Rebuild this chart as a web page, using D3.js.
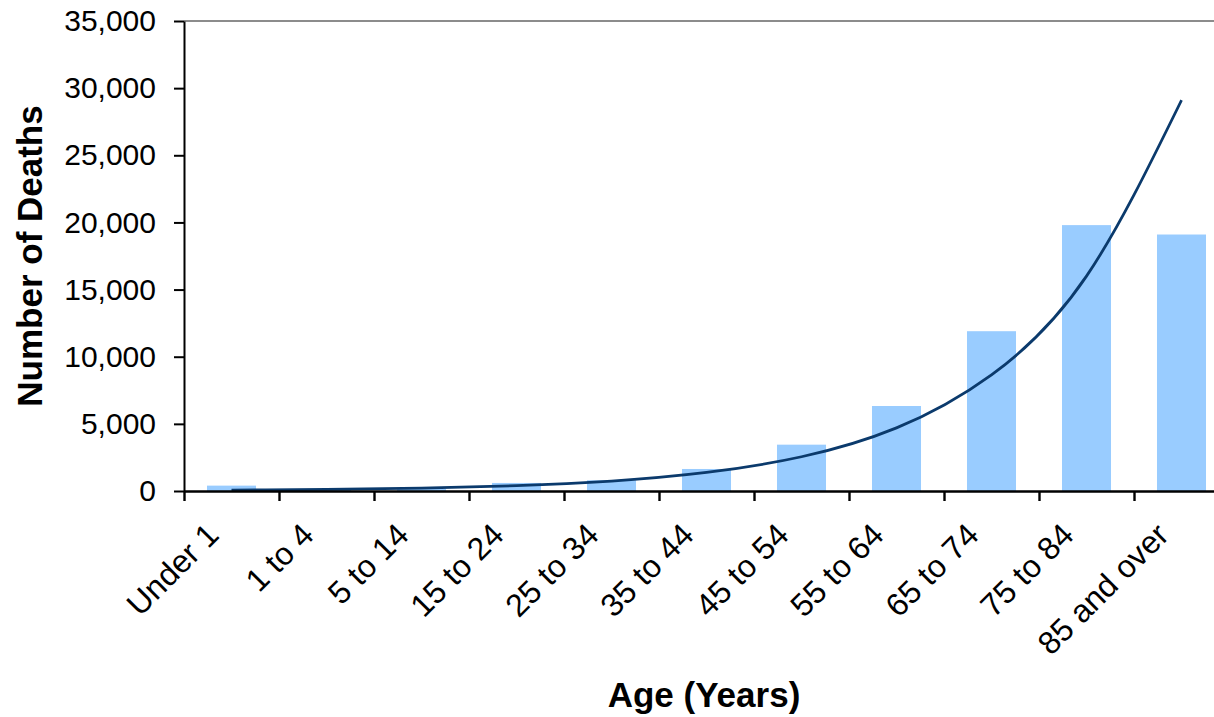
<!DOCTYPE html>
<html>
<head>
<meta charset="utf-8">
<script src="https://cdn.jsdelivr.net/npm/d3@7"></script>
<style>
  html, body { margin: 0; padding: 0; background: #fff; }
  svg { display: block; }
  text { font-family: "Liberation Sans", Arial, sans-serif; }
</style>
</head>
<body>
<svg id="chart" width="1214" height="717"></svg>
<script>
const categories = ["Under 1", "1 to 4", "5 to 14", "15 to 24", "25 to 34", "35 to 44",
                    "45 to 54", "55 to 64", "65 to 74", "75 to 84", "85 and over"];
const deaths = [400, 120, 150, 600, 800, 1640, 3450, 6330, 11900, 19800, 19100];
const trend  = [64, 118, 217, 400, 740, 1380, 2550, 4700, 8650, 16000, 29100];
const yTicks = [0, 5000, 10000, 15000, 20000, 25000, 30000, 35000];
const xTitle = "Age (Years)";
const yTitle = "Number of Deaths";

const svg = d3.select("#chart");
const pLeft = 184, pTop = 21, pBottom = 491, step = 95;
const pRight = pLeft + step * categories.length;

const x = d3.scaleBand().domain(categories).range([pLeft, pRight])
  .paddingInner(0.484).paddingOuter(0.242);
const xb = d3.scaleLinear().domain([0, categories.length]).range([pLeft, pRight]);
const y = d3.scaleLinear().domain([0, 35000]).range([pBottom, pTop]);

// top plot border
svg.append("line").attr("x1", pLeft).attr("x2", pRight).attr("y1", pTop).attr("y2", pTop)
  .attr("stroke", "#8c8c8c").attr("stroke-width", 2);

// bars
svg.append("g").selectAll("rect").data(categories).join("rect")
  .attr("x", d => x(d)).attr("width", x.bandwidth())
  .attr("y", (d, i) => y(deaths[i])).attr("height", (d, i) => y(0) - y(deaths[i]))
  .attr("fill", "#99ccff");

// trend line
const line = d3.line().x((d, i) => x(categories[i]) + x.bandwidth() / 2).y(d => y(d))
  .curve(d3.curveNatural);
svg.append("path").datum(trend).attr("d", line).attr("fill", "none")
  .attr("stroke", "#0b3a6c").attr("stroke-width", 2.8);

// y axis
const yAxis = svg.append("g").attr("transform", `translate(${pLeft},0)`)
  .call(d3.axisLeft(y).tickValues(yTicks).tickFormat(d3.format(",")).tickSize(10).tickSizeOuter(0).tickPadding(18));
yAxis.select(".domain").attr("stroke", "#000").attr("stroke-width", 2);
yAxis.selectAll(".tick line").attr("stroke", "#000").attr("stroke-width", 2);
yAxis.selectAll(".tick text").attr("font-size", 30).attr("fill", "#000")
  .style("font-family", "'Liberation Sans', Arial, sans-serif");

// x axis ticks at category boundaries
const xAxisTicks = svg.append("g").attr("transform", `translate(0,${pBottom})`)
  .call(d3.axisBottom(xb).tickValues(d3.range(0, categories.length + 1)).tickFormat("").tickSize(10).tickSizeOuter(0));
xAxisTicks.select(".domain").attr("stroke", "#000").attr("stroke-width", 2.4);
xAxisTicks.selectAll(".tick line").attr("stroke", "#000").attr("stroke-width", 2.4);

// x labels
const xAxisLabels = svg.append("g").attr("transform", `translate(0,${pBottom})`)
  .call(d3.axisBottom(x).tickSize(0));
xAxisLabels.select(".domain").remove();
xAxisLabels.selectAll(".tick text")
  .attr("x", 0).attr("y", 0).attr("dy", 0)
  .attr("transform", "translate(-11,46) rotate(-45)")
  .attr("text-anchor", "end").attr("font-size", 32).attr("fill", "#000")
  .style("font-family", "'Liberation Sans', Arial, sans-serif");

// axis titles
svg.append("text").attr("x", 704).attr("y", 707).attr("text-anchor", "middle")
  .attr("font-size", 35).attr("font-weight", "bold").text(xTitle);
svg.append("text").attr("transform", "translate(42,256) rotate(-90)").attr("text-anchor", "middle")
  .attr("font-size", 35).attr("font-weight", "bold").text(yTitle);
</script>
</body>
</html>
